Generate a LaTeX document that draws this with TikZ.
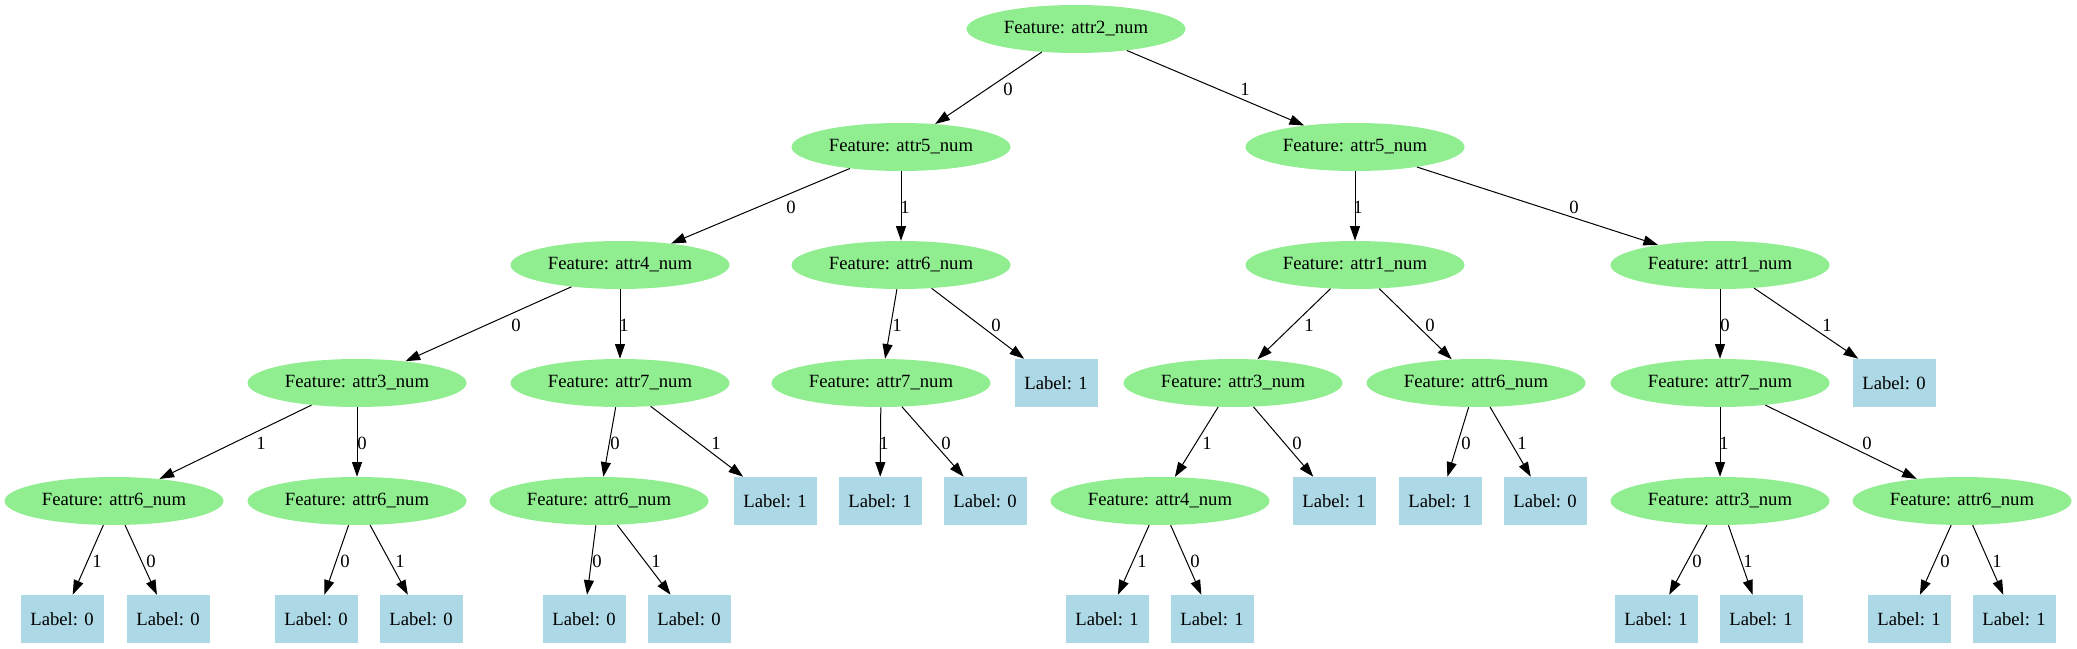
\documentclass[tikz,border=0pt]{standalone}
\usepackage{fontspec}
\setmainfont{Liberation Serif}
\usetikzlibrary{shapes.geometric,arrows.meta}
\definecolor{featgreen}{HTML}{90EE90}
\definecolor{leafblue}{HTML}{ADD8E6}
\begin{document}
\begin{tikzpicture}[x=0.75pt,y=-0.75pt,
  txt/.style={font=\fontsize{14pt}{16pt}\selectfont},
  feat/.style={txt, ellipse, fill=featgreen, draw=none, minimum width=164.25pt, minimum height=36pt, inner sep=0pt},
  leaf/.style={txt, rectangle, fill=leafblue, draw=none, minimum width=62.25pt, minimum height=36pt, inner sep=0pt},
  edge/.style={draw=black, line width=0.75pt, -{Triangle[length=11pt,width=7.5pt]}},
  elab/.style={txt, inner sep=0pt}]
\useasboundingbox (0,0) rectangle (2077,649);
% level 0
\node[feat] (n0) at (1076,29) {Feature: attr2\_num};
% level 1
\node[feat] (n1) at (901,147) {Feature: attr5\_num};
\node[feat] (n2) at (1355,147) {Feature: attr5\_num};
% level 2
\node[feat] (n3) at (620,265) {Feature: attr4\_num};
\node[feat] (n4) at (901,265) {Feature: attr6\_num};
\node[feat] (n5) at (1355,265) {Feature: attr1\_num};
\node[feat] (n6) at (1720,265) {Feature: attr1\_num};
% level 3
\node[feat] (n7) at (357,383) {Feature: attr3\_num};
\node[feat] (n8) at (620,383) {Feature: attr7\_num};
\node[feat] (n9) at (881,383) {Feature: attr7\_num};
\node[leaf] (n10) at (1056,383) {Label: 1};
\node[feat] (n11) at (1233,383) {Feature: attr3\_num};
\node[feat] (n12) at (1476,383) {Feature: attr6\_num};
\node[feat] (n13) at (1720,383) {Feature: attr7\_num};
\node[leaf] (n14) at (1894,383) {Label: 0};
% level 4
\node[feat] (n15) at (114,501) {Feature: attr6\_num};
\node[feat] (n16) at (357,501) {Feature: attr6\_num};
\node[feat] (n17) at (599,501) {Feature: attr6\_num};
\node[leaf] (n18) at (775,501) {Label: 1};
\node[leaf] (n19) at (880,501) {Label: 1};
\node[leaf] (n20) at (985,501) {Label: 0};
\node[feat] (n21) at (1160,501) {Feature: attr4\_num};
\node[leaf] (n22) at (1334,501) {Label: 1};
\node[leaf] (n23) at (1440,501) {Label: 1};
\node[leaf] (n24) at (1545,501) {Label: 0};
\node[feat] (n25) at (1720,501) {Feature: attr3\_num};
\node[feat] (n26) at (1962,501) {Feature: attr6\_num};
% level 5
\node[leaf] (n27) at (62,619) {Label: 0};
\node[leaf] (n28) at (168,619) {Label: 0};
\node[leaf] (n29) at (316,619) {Label: 0};
\node[leaf] (n30) at (421,619) {Label: 0};
\node[leaf] (n31) at (584,619) {Label: 0};
\node[leaf] (n32) at (689,619) {Label: 0};
\node[leaf] (n33) at (1107,619) {Label: 1};
\node[leaf] (n34) at (1212,619) {Label: 1};
\node[leaf] (n35) at (1656,619) {Label: 1};
\node[leaf] (n36) at (1761,619) {Label: 1};
\node[leaf] (n37) at (1909,619) {Label: 1};
\node[leaf] (n38) at (2014,619) {Label: 1};
% edges
\draw[edge] (n0) -- (n1) node[elab] at (1008,89) {0};
\draw[edge] (n0) -- (n2) node[elab] at (1245,89) {1};
\draw[edge] (n1) -- (n3) node[elab] at (791,207) {0};
\draw[edge] (n1) -- (n4) node[elab] at (905,207) {1};
\draw[edge] (n2) -- (n5) node[elab] at (1358,207) {1};
\draw[edge] (n2) -- (n6) node[elab] at (1574,207) {0};
\draw[edge] (n3) -- (n7) node[elab] at (516,325) {0};
\draw[edge] (n3) -- (n8) node[elab] at (624,325) {1};
\draw[edge] (n4) -- (n9) node[elab] at (897,325) {1};
\draw[edge] (n4) -- (n10) node[elab] at (996,325) {0};
\draw[edge] (n5) -- (n11) node[elab] at (1309,325) {1};
\draw[edge] (n5) -- (n12) node[elab] at (1430,325) {0};
\draw[edge] (n6) -- (n13) node[elab] at (1725,325) {0};
\draw[edge] (n6) -- (n14) node[elab] at (1827,325) {1};
\draw[edge] (n7) -- (n15) node[elab] at (261,443) {1};
\draw[edge] (n7) -- (n16) node[elab] at (362,443) {0};
\draw[edge] (n8) -- (n17) node[elab] at (615,443) {0};
\draw[edge] (n8) -- (n18) node[elab] at (716,443) {1};
\draw[edge] (n9) -- (n19) node[elab] at (884,443) {1};
\draw[edge] (n9) -- (n20) node[elab] at (946,443) {0};
\draw[edge] (n11) -- (n21) node[elab] at (1207,443) {1};
\draw[edge] (n11) -- (n22) node[elab] at (1297,443) {0};
\draw[edge] (n12) -- (n23) node[elab] at (1466,443) {0};
\draw[edge] (n12) -- (n24) node[elab] at (1522,443) {1};
\draw[edge] (n13) -- (n25) node[elab] at (1724,443) {1};
\draw[edge] (n13) -- (n26) node[elab] at (1867,443) {0};
\draw[edge] (n15) -- (n27) node[elab] at (97,561) {1};
\draw[edge] (n15) -- (n28) node[elab] at (151,561) {0};
\draw[edge] (n16) -- (n29) node[elab] at (345,561) {0};
\draw[edge] (n16) -- (n30) node[elab] at (400,561) {1};
\draw[edge] (n17) -- (n31) node[elab] at (597,561) {0};
\draw[edge] (n17) -- (n32) node[elab] at (656,561) {1};
\draw[edge] (n21) -- (n33) node[elab] at (1142,561) {1};
\draw[edge] (n21) -- (n34) node[elab] at (1195,561) {0};
\draw[edge] (n25) -- (n35) node[elab] at (1697,561) {0};
\draw[edge] (n25) -- (n36) node[elab] at (1748,561) {1};
\draw[edge] (n26) -- (n37) node[elab] at (1945,561) {0};
\draw[edge] (n26) -- (n38) node[elab] at (1997,561) {1};
\end{tikzpicture}
\end{document}
